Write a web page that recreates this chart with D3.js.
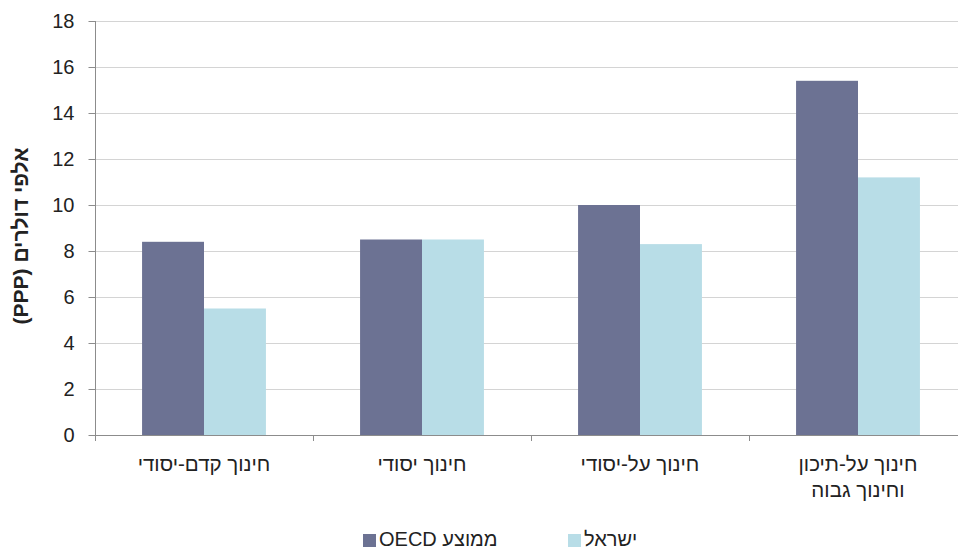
<!DOCTYPE html>
<html><head><meta charset="utf-8">
<script src="https://cdn.jsdelivr.net/npm/d3@7"></script>
<style>body{margin:0;background:#fff}svg{display:block;font-family:"Liberation Sans",Arial,sans-serif}</style>
</head><body>
<svg id="c" width="958" height="549"></svg>
<script>
const categories = [["חינוך קדם-יסודי"],["חינוך יסודי"],["חינוך על-יסודי"],["חינוך על-תיכון","וחינוך גבוה"]];
const seriesNames = ["ממוצע OECD","ישראל"];
const oecd = [8.4, 8.5, 10.0, 15.4];
const israel = [5.5, 8.5, 8.3, 11.2];
const yTicks = [0,2,4,6,8,10,12,14,16,18];
const colors = ["#6c7293","#b8dde7"];
const yTitle = "אלפי דולרים (PPP)";

(function(){
const svg = d3.select("#c");
const mLeft = 95, mRight = 967, mTop = 21, mBottom = 435;
const x = d3.scaleBand().domain(d3.range(categories.length)).range([mLeft,mRight]).paddingInner(0).paddingOuter(0);
const x1 = d3.scaleBand().domain([0,1]).range([0,x.bandwidth()]).paddingInner(0).paddingOuter(0.76);
const y = d3.scaleLinear().domain([0,18]).range([mBottom,mTop]);

// gridlines
svg.append("g").selectAll("line").data(yTicks.filter(d=>d>0)).join("line")
  .attr("x1",mLeft).attr("x2",958).attr("y1",d=>Math.round(y(d))+0.5).attr("y2",d=>Math.round(y(d))+0.5)
  .attr("stroke","#d4d4d4").attr("stroke-width",1);

// bars
const series = [oecd, israel];
series.forEach((vals,si)=>{
  svg.append("g").selectAll("rect").data(vals).join("rect")
    .attr("x",(d,i)=>x(i)+x1(si)).attr("width",x1.bandwidth())
    .attr("y",d=>y(d)).attr("height",d=>mBottom-y(d))
    .attr("fill",colors[si]);
});

// y axis
const yAxis = d3.axisLeft(y).tickValues(yTicks).tickSize(7).tickPadding(14);
const gy = svg.append("g").attr("transform",`translate(${mLeft+0.5},0)`).call(yAxis);
gy.attr("font-size",20).attr("font-family","Liberation Sans, Arial, sans-serif");
gy.select(".domain").attr("stroke","#8c8c8c").attr("d",`M0,${mTop}V${mBottom+0.5}`);
gy.selectAll(".tick line").attr("stroke","#8c8c8c");
gy.selectAll(".tick text").attr("font-size",20).attr("fill","#222");

// x axis
svg.append("line").attr("x1",mLeft).attr("x2",958).attr("y1",mBottom+0.5).attr("y2",mBottom+0.5).attr("stroke","#8c8c8c");
svg.append("g").selectAll("line").data(d3.range(categories.length)).join("line")
  .attr("x1",i=>Math.round(x(i))+0.5).attr("x2",i=>Math.round(x(i))+0.5).attr("y1",mBottom).attr("y2",mBottom+6).attr("stroke","#8c8c8c");

// x labels
const xl = svg.append("g").selectAll("text").data(categories).join("text")
  .attr("x",(d,i)=>x(i)+x.bandwidth()/2).attr("y",471)
  .attr("text-anchor","middle").attr("direction","rtl").attr("font-size",20.5).attr("fill","#222");
xl.each(function(d){
  const t = d3.select(this);
  d.forEach((line,k)=>t.append("tspan").attr("x",t.attr("x")).attr("dy",k===0?0:26).text(line));
});

// y title
svg.append("text").attr("transform",`translate(28,236) rotate(-90)`)
  .attr("text-anchor","middle").attr("direction","rtl").attr("font-size",21).attr("font-weight","bold").attr("fill","#222")
  .text(yTitle);

// legend
const legendPos = [{sq:363, tx:379},{sq:568, tx:584}];
seriesNames.forEach((n,i)=>{
  svg.append("rect").attr("x",legendPos[i].sq).attr("y",534).attr("width",13).attr("height",13).attr("fill",colors[i]);
  svg.append("text").attr("x",legendPos[i].tx).attr("y",546).attr("text-anchor","end").attr("direction","rtl")
    .attr("font-size",20).attr("fill","#222").text(n);
});
})();
</script>
</body></html>
